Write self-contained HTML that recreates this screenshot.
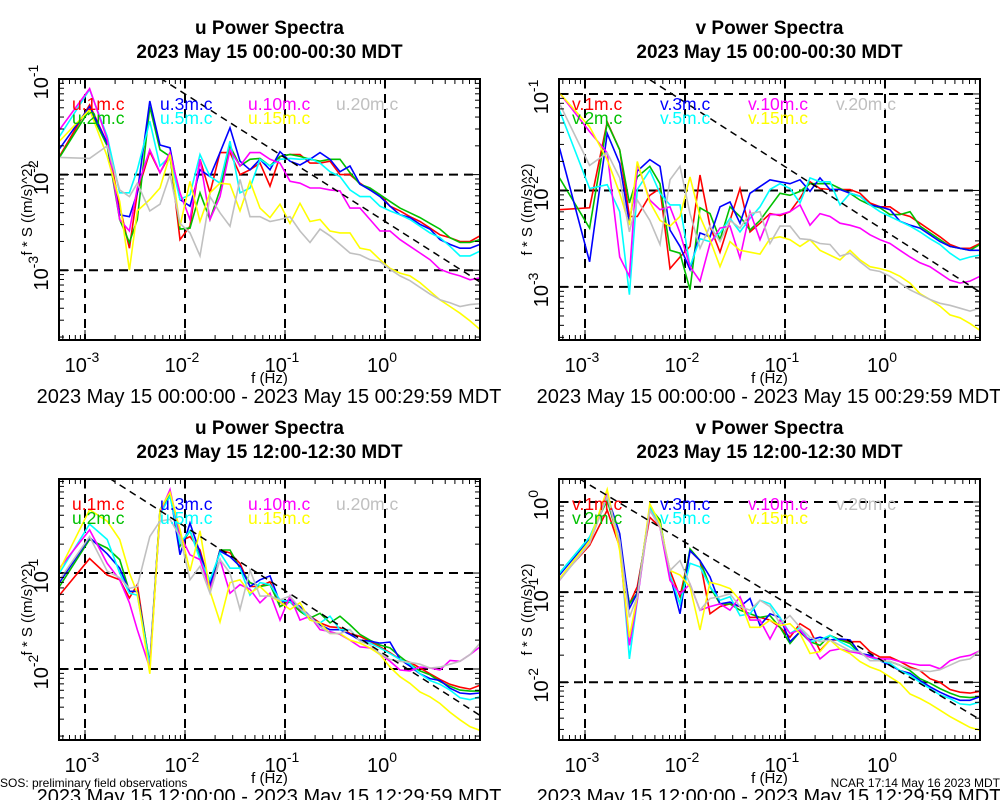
<!DOCTYPE html>
<html><head><meta charset="utf-8">
<style>
html,body{margin:0;padding:0;background:#fff;}
svg{display:block;font-family:"Liberation Sans",Arial,sans-serif;}
</style></head>
<body>
<svg id="chart" width="1000" height="800" viewBox="0 0 1000 800" xmlns="http://www.w3.org/2000/svg">
<rect width="1000" height="800" fill="#fff"/>
<text x="0" y="787" font-size="12">SOS: preliminary field observations</text>
<text x="1000" y="787" font-size="12" text-anchor="end">NCAR 17:14 May 16 2023 MDT</text>
</svg>
<script>
// log10 frequency (Hz) of spectral points
const F = [-3.255,-2.954,-2.778,-2.653,-2.556,-2.477,-2.352,-2.25,-2.15,-2.05,-1.95,-1.85,-1.75,-1.65,-1.55,-1.45,-1.35,-1.25,-1.15,-1.05,-0.95,-0.85,-0.75,-0.65,-0.55,-0.45,-0.35,-0.25,-0.15,-0.05,0.05,0.15,0.25,0.35,0.45,0.55,0.65,0.75,0.85,0.95];
const heights = ['1m','2m','3m','5m','10m','15m','20m'];
const colors = ['#ff0000','#00c000','#0000ff','#00ffff','#ff00ff','#ffff00','#c0c0c0'];
// log10 of f*S values, panel u 00:00
const u0_1m=[-1.81,-1.27,-1.67,-2.33,-2.77,-2.19,-1.76,-1.98,-1.79,-2.68,-2.54,-1.84,-2.19,-1.77,-1.77,-2.00,-1.95,-1.88,-2.12,-1.81,-1.79,-1.79,-1.88,-1.88,-1.86,-2.00,-2.00,-2.09,-2.16,-2.21,-2.33,-2.38,-2.44,-2.49,-2.56,-2.63,-2.66,-2.70,-2.70,-2.64];
const u0_2m=[-1.82,-1.32,-1.70,-2.47,-2.71,-2.47,-1.29,-1.74,-1.81,-2.57,-2.56,-2.19,-2.47,-2.16,-1.70,-1.91,-1.84,-1.83,-1.91,-1.81,-1.79,-1.81,-1.84,-1.86,-1.84,-1.84,-1.98,-2.10,-2.14,-2.21,-2.28,-2.35,-2.40,-2.45,-2.51,-2.57,-2.66,-2.71,-2.71,-2.68];
const u0_3m=[-1.73,-1.29,-1.67,-2.42,-2.44,-2.19,-1.23,-1.69,-1.72,-2.26,-2.33,-1.95,-2.02,-1.77,-1.51,-1.86,-1.95,-1.84,-1.95,-1.76,-1.86,-1.90,-1.84,-1.77,-1.84,-1.97,-1.91,-2.10,-2.16,-2.23,-2.33,-2.42,-2.45,-2.52,-2.57,-2.68,-2.73,-2.77,-2.77,-2.73];
const u0_5m=[-1.60,-1.11,-1.60,-2.19,-2.19,-1.95,-1.44,-1.91,-1.81,-2.26,-2.21,-1.79,-2.02,-2.09,-1.65,-2.19,-2.14,-1.84,-1.91,-1.84,-1.83,-1.84,-1.83,-1.88,-1.97,-2.02,-2.16,-2.23,-2.23,-2.33,-2.38,-2.42,-2.47,-2.54,-2.61,-2.66,-2.75,-2.85,-2.85,-2.80];
const u0_10m=[-1.53,-1.10,-1.63,-2.47,-2.59,-2.14,-1.74,-1.98,-1.77,-2.19,-2.47,-1.84,-2.47,-2.23,-1.74,-1.91,-1.77,-1.77,-1.84,-1.88,-2.07,-2.09,-2.14,-2.14,-2.16,-2.17,-2.35,-2.35,-2.47,-2.59,-2.59,-2.68,-2.75,-2.82,-2.89,-2.99,-3.03,-3.06,-3.10,-3.08];
const u0_15m=[-1.65,-1.32,-1.81,-2.28,-3.00,-2.38,-2.26,-2.14,-1.79,-2.54,-2.07,-2.49,-2.19,-2.09,-2.10,-2.38,-2.07,-2.35,-2.45,-2.31,-2.51,-2.30,-2.49,-2.47,-2.59,-2.61,-2.61,-2.77,-2.79,-2.89,-2.98,-3.03,-3.06,-3.13,-3.22,-3.31,-3.38,-3.45,-3.53,-3.62];
const u0_20m=[-1.82,-1.83,-1.70,-2.16,-2.23,-2.09,-2.38,-2.31,-2.00,-2.51,-2.61,-2.85,-2.23,-2.40,-2.54,-2.05,-2.44,-2.44,-2.49,-2.47,-2.44,-2.59,-2.71,-2.57,-2.64,-2.73,-2.82,-2.84,-2.89,-2.91,-2.99,-3.06,-3.11,-3.18,-3.25,-3.31,-3.34,-3.38,-3.36,-3.35];
// panel v 00:00
const v0_1m=[-2.20,-2.18,-1.29,-1.58,-2.27,-2.27,-2.05,-1.98,-2.81,-2.69,-2.58,-1.84,-2.37,-2.64,-2.31,-1.98,-2.43,-2.34,-2.24,-2.26,-2.22,-2.08,-1.91,-1.98,-1.99,-1.99,-1.99,-2.03,-2.13,-2.17,-2.17,-2.24,-2.27,-2.34,-2.41,-2.48,-2.56,-2.60,-2.60,-2.55];
const v0_2m=[-1.87,-2.39,-1.30,-1.58,-2.13,-1.86,-1.75,-1.93,-2.62,-2.65,-3.03,-2.18,-2.24,-2.51,-2.17,-2.27,-2.41,-2.31,-2.17,-2.03,-2.05,-2.01,-1.93,-1.93,-1.93,-1.98,-2.03,-2.10,-2.15,-2.18,-2.25,-2.25,-2.22,-2.37,-2.44,-2.51,-2.58,-2.60,-2.62,-2.56];
const v0_3m=[-1.56,-2.74,-1.41,-1.72,-2.34,-1.80,-1.68,-1.75,-2.41,-2.58,-2.82,-2.44,-2.48,-2.17,-2.12,-2.34,-2.03,-1.96,-1.89,-1.91,-1.93,-1.89,-2.01,-1.87,-1.99,-1.99,-2.03,-2.06,-2.15,-2.17,-2.20,-2.32,-2.36,-2.39,-2.46,-2.53,-2.58,-2.60,-2.62,-2.62];
const v0_5m=[-1.17,-1.98,-1.94,-2.22,-3.08,-1.99,-1.79,-2.03,-2.15,-2.15,-2.79,-2.50,-2.53,-2.44,-2.29,-2.43,-2.29,-2.17,-1.99,-1.93,-1.98,-2.13,-1.87,-1.91,-1.91,-2.15,-2.03,-2.06,-2.15,-2.22,-2.27,-2.32,-2.37,-2.43,-2.50,-2.56,-2.65,-2.72,-2.69,-2.67];
const v0_10m=[-0.99,-1.39,-1.61,-2.69,-2.89,-1.72,-2.10,-2.20,-2.17,-2.44,-2.79,-2.94,-2.55,-2.39,-2.37,-2.70,-2.22,-2.51,-2.25,-2.25,-2.22,-2.15,-2.36,-2.24,-2.27,-2.34,-2.36,-2.39,-2.46,-2.51,-2.55,-2.62,-2.69,-2.75,-2.79,-2.86,-2.93,-2.96,-2.94,-2.89];
const v0_15m=[-0.99,-1.34,-1.68,-2.03,-2.36,-1.70,-2.12,-2.31,-2.37,-2.27,-1.86,-2.27,-2.51,-2.79,-2.53,-2.62,-2.64,-2.66,-2.50,-2.48,-2.51,-2.58,-2.51,-2.62,-2.67,-2.72,-2.62,-2.72,-2.79,-2.81,-2.84,-2.89,-2.96,-3.07,-3.13,-3.20,-3.29,-3.32,-3.38,-3.45];
const v0_20m=[-1.10,-1.74,-1.61,-1.87,-2.43,-2.10,-2.31,-2.56,-1.89,-1.75,-2.24,-2.60,-2.37,-2.53,-2.31,-2.39,-2.24,-2.22,-2.55,-2.37,-2.37,-2.50,-2.51,-2.55,-2.56,-2.68,-2.65,-2.74,-2.82,-2.84,-2.89,-2.96,-3.03,-3.08,-3.13,-3.17,-3.19,-3.22,-3.25,-3.22];
// panel u 12:00
const u12_1m=[-1.23,-0.85,-1.02,-1.07,-1.26,-1.12,-1.98,-0.37,-0.16,-0.67,-0.62,-0.76,-1.14,-0.76,-0.79,-0.90,-1.14,-1.14,-1.09,-1.35,-1.28,-1.38,-1.45,-1.52,-1.56,-1.57,-1.63,-1.66,-1.71,-1.77,-1.83,-1.90,-1.93,-1.99,-2.05,-2.11,-2.16,-2.19,-2.21,-2.17];
const u12_2m=[-1.14,-0.65,-0.74,-0.86,-1.19,-1.19,-1.94,-0.34,-0.18,-0.72,-0.56,-0.84,-1.17,-0.76,-0.76,-0.95,-1.10,-1.14,-1.12,-1.35,-1.30,-1.40,-1.47,-1.42,-1.52,-1.45,-1.54,-1.64,-1.70,-1.75,-1.78,-1.87,-1.95,-2.02,-2.06,-2.13,-2.18,-2.22,-2.23,-2.23];
const u12_3m=[-1.10,-0.63,-0.80,-0.95,-1.19,-1.19,-1.98,-0.34,-0.16,-0.81,-0.48,-0.79,-1.12,-0.77,-0.83,-0.93,-1.14,-1.07,-1.03,-1.31,-1.28,-1.35,-1.45,-1.54,-1.59,-1.59,-1.64,-1.70,-1.71,-1.73,-1.72,-1.90,-1.97,-2.05,-2.10,-2.12,-2.20,-2.25,-2.26,-2.25];
const u12_5m=[-1.00,-0.49,-0.65,-1.00,-1.21,-1.23,-1.96,-0.39,-0.20,-0.69,-0.56,-0.86,-1.07,-0.79,-0.95,-0.95,-1.23,-1.10,-1.12,-1.28,-1.30,-1.37,-1.49,-1.52,-1.45,-1.59,-1.59,-1.71,-1.73,-1.78,-1.84,-1.90,-1.95,-2.05,-2.12,-2.16,-2.22,-2.30,-2.32,-2.29];
const u12_10m=[-0.95,-0.55,-0.90,-1.07,-1.31,-1.59,-1.99,-0.37,-0.13,-0.60,-0.81,-0.86,-1.17,-0.86,-1.21,-1.12,-1.17,-1.31,-1.21,-1.49,-1.24,-1.49,-1.45,-1.59,-1.61,-1.64,-1.70,-1.77,-1.78,-1.84,-1.92,-2.01,-2.02,-1.98,-1.99,-2.01,-1.91,-1.92,-1.85,-1.77];
const u12_15m=[-0.97,-0.34,-0.46,-0.65,-1.00,-1.21,-2.05,-0.34,-0.16,-0.55,-0.98,-0.56,-1.19,-1.51,-1.10,-1.07,-1.21,-1.14,-1.24,-1.30,-1.38,-1.31,-1.49,-1.52,-1.63,-1.63,-1.70,-1.73,-1.78,-1.85,-1.98,-2.08,-2.15,-2.24,-2.29,-2.36,-2.45,-2.53,-2.60,-2.64];
const u12_20m=[-1.07,-0.62,-0.98,-1.05,-1.16,-1.14,-0.62,-0.46,-0.44,-0.62,-1.07,-0.93,-1.21,-0.86,-1.00,-1.38,-0.97,-1.24,-1.24,-1.28,-1.24,-1.37,-1.45,-1.56,-1.63,-1.63,-1.59,-1.71,-1.75,-1.84,-1.90,-1.92,-1.93,-1.95,-1.99,-1.98,-1.95,-1.92,-1.85,-1.73];
// panel v 12:00
const v12_1m=[-0.85,-0.48,-0.09,-0.50,-1.13,-0.94,-0.17,-0.28,-0.76,-1.05,-0.54,-0.65,-1.24,-1.16,-1.13,-1.16,-1.28,-1.28,-1.31,-1.39,-1.50,-1.35,-1.42,-1.65,-1.53,-1.53,-1.55,-1.55,-1.66,-1.72,-1.72,-1.77,-1.83,-1.87,-1.96,-2.00,-2.08,-2.11,-2.12,-2.10];
const v12_2m=[-0.79,-0.39,0.02,-0.46,-1.13,-1.01,-0.06,-0.20,-0.83,-1.13,-0.52,-0.65,-0.94,-1.13,-1.13,-1.20,-1.24,-1.28,-1.26,-1.39,-1.57,-1.44,-1.55,-1.59,-1.48,-1.53,-1.57,-1.68,-1.72,-1.76,-1.77,-1.81,-1.87,-1.96,-2.01,-2.07,-2.12,-2.16,-2.17,-2.16];
const v12_3m=[-0.81,-0.41,0.07,-0.35,-1.18,-1.01,-0.07,-0.24,-0.81,-1.24,-0.54,-0.65,-0.83,-1.13,-1.11,-1.16,-1.07,-1.37,-1.24,-1.28,-1.55,-1.44,-1.53,-1.50,-1.53,-1.52,-1.53,-1.68,-1.70,-1.76,-1.81,-1.87,-1.90,-1.98,-2.05,-2.11,-2.16,-2.20,-2.20,-2.16];
const v12_5m=[-0.79,-0.39,0.06,-0.43,-1.74,-1.09,-0.06,-0.24,-0.81,-1.13,-0.68,-0.72,-0.94,-1.09,-1.05,-1.26,-1.24,-1.09,-1.13,-1.28,-1.46,-1.39,-1.55,-1.53,-1.48,-1.55,-1.61,-1.68,-1.72,-1.76,-1.79,-1.87,-1.92,-2.00,-2.07,-2.14,-2.18,-2.24,-2.25,-2.22];
const v12_10m=[-0.87,-0.43,0.09,-0.50,-1.59,-1.09,-0.09,-0.28,-0.87,-1.02,-0.91,-1.20,-1.16,-1.13,-1.20,-1.05,-1.31,-1.31,-1.52,-1.31,-1.46,-1.42,-1.55,-1.74,-1.65,-1.63,-1.66,-1.68,-1.72,-1.74,-1.74,-1.77,-1.79,-1.81,-1.81,-1.85,-1.76,-1.72,-1.70,-1.65];
const v12_15m=[-0.85,-0.43,0.14,-0.54,-1.50,-1.05,-0.02,-0.24,-0.76,-0.81,-0.94,-1.42,-0.89,-0.92,-0.96,-1.09,-1.39,-1.39,-1.31,-1.37,-1.35,-1.46,-1.68,-1.66,-1.53,-1.63,-1.68,-1.77,-1.83,-1.87,-1.94,-2.01,-2.13,-2.18,-2.24,-2.31,-2.38,-2.44,-2.50,-2.53];
const v12_20m=[-0.87,-0.46,0.06,-0.43,-1.28,-1.05,-0.09,-0.28,-0.76,-0.65,-0.91,-1.20,-1.07,-1.05,-1.02,-1.16,-1.20,-1.09,-1.16,-1.35,-1.26,-1.39,-1.50,-1.55,-1.53,-1.59,-1.65,-1.66,-1.76,-1.76,-1.77,-1.81,-1.85,-1.87,-1.88,-1.86,-1.81,-1.76,-1.74,-1.65];
// reference -2/3 slope line intercepts (log10 at 1 Hz)
const refIntercept = [-2.49,-2.42,-1.85,-1.78];
const refSlope = -2/3;
const xTickDecades = [-3,-2,-1,0];

const SVGNS='http://www.w3.org/2000/svg';
const svg=document.getElementById('chart');
function el(tag,attrs,parent){const e=document.createElementNS(SVGNS,tag);for(const k in attrs)e.setAttribute(k,attrs[k]);(parent||svg).appendChild(e);return e;}

const panels=[
 {var:'u',title:'2023 May 15 00:00-00:30 MDT',range:'2023 May 15 00:00:00 - 2023 May 15 00:29:59 MDT',x0:59,x1:480,y0:79,y1:340,yt:-1.0,yb:-3.73,dec:[-1,-2,-3],series:[u0_1m,u0_2m,u0_3m,u0_5m,u0_10m,u0_15m,u0_20m]},
 {var:'v',title:'2023 May 15 00:00-00:30 MDT',range:'2023 May 15 00:00:00 - 2023 May 15 00:29:59 MDT',x0:559,x1:980,y0:79,y1:340,yt:-0.845,yb:-3.55,dec:[-1,-2,-3],series:[v0_1m,v0_2m,v0_3m,v0_5m,v0_10m,v0_15m,v0_20m]},
 {var:'u',title:'2023 May 15 12:00-12:30 MDT',range:'2023 May 15 12:00:00 - 2023 May 15 12:29:59 MDT',x0:59,x1:480,y0:479,y1:740,yt:-0.02,yb:-2.74,dec:[-1,-2],series:[u12_1m,u12_2m,u12_3m,u12_5m,u12_10m,u12_15m,u12_20m]},
 {var:'v',title:'2023 May 15 12:00-12:30 MDT',range:'2023 May 15 12:00:00 - 2023 May 15 12:29:59 MDT',x0:559,x1:980,y0:479,y1:740,yt:0.255,yb:-2.64,dec:[0,-1,-2],series:[v12_1m,v12_2m,v12_3m,v12_5m,v12_10m,v12_15m,v12_20m]}
];
const LFMIN=-3.26,LFMAX=0.95;

panels.forEach((p,pi)=>{
  const g=el('g',{});
  
  
  const X=lf=>p.x0+(lf-LFMIN)/(LFMAX-LFMIN)*(p.x1-p.x0);
  const Y=ly=>p.y0+(p.yt-ly)/(p.yt-p.yb)*(p.y1-p.y0);
  const cx=(p.x0+p.x1)/2;
  const t1=el('text',{x:cx,y:p.y0-45,'font-size':19,'font-weight':'bold','text-anchor':'middle'},g);
  t1.textContent=p.var+' Power Spectra';
  
  
  const t2=el('text',{x:cx,y:p.y0-21,'font-size':19,'font-weight':'bold','text-anchor':'middle'},g);
  t2.textContent=p.title;
  
  
  const cp=el('clipPath',{id:'clip'+pi},g);
  el('rect',{x:p.x0,y:p.y0,width:p.x1-p.x0,height:p.y1-p.y0},cp);
  xTickDecades.forEach(d=>{
    const gl=el('line',{x1:X(d),x2:X(d),y1:p.y0,y2:p.y1,stroke:'#000','stroke-width':2,'stroke-dasharray':'9,6'},g);
    
    
  });
  p.dec.forEach(d=>{
    const yy=Y(d); if(yy<p.y0+2) return;
    const gl=el('line',{x1:p.x0,x2:p.x1,y1:yy,y2:yy,stroke:'#000','stroke-width':2,'stroke-dasharray':'9,6'},g);
    
    
  });
  const sg=el('g',{'clip-path':'url(#clip'+pi+')'},g);
  p.series.forEach((s,si)=>{
    const pts=s.map((v,i)=>X(F[i]).toFixed(1)+','+Y(v).toFixed(1)).join(' ');
    const pl=el('polyline',{points:pts,fill:'none',stroke:colors[si],'stroke-width':1.6,'stroke-linejoin':'miter'},sg);
    
    
  });
  const rl=el('line',{x1:X(LFMIN),y1:Y(refIntercept[pi]+refSlope*LFMIN),x2:X(LFMAX),y2:Y(refIntercept[pi]+refSlope*LFMAX),stroke:'#000','stroke-width':1.5,'stroke-dasharray':'7,5'},sg);
  
  
  const lx=[p.x0+13,p.x0+101,p.x0+189,p.x0+277];
  heights.forEach((h,si)=>{
    const col=si===6?3:Math.floor(si/2), row=si===6?0:si%2;
    const lt=el('text',{x:lx[col],y:p.y0+31+row*14,'font-size':17.5,fill:colors[si]},g);
    lt.textContent=p.var+'.'+h+'.c';
    
    
  });
  for(let d=-4; d<=1; d++){
    for(let m=1;m<10;m++){
      const lf=d+Math.log10(m); if(lf<LFMIN||lf>LFMAX) continue;
      const L=m===1?10:5, x=X(lf);
      el('line',{x1:x,x2:x,y1:p.y1,y2:p.y1-L,stroke:'#000','stroke-width':1},g);
      el('line',{x1:x,x2:x,y1:p.y0,y2:p.y0+L,stroke:'#000','stroke-width':1},g);
    }
    for(let m=1;m<10;m++){
      const ly=d+Math.log10(m); if(ly>p.yt+0.001||ly<p.yb) continue;
      const L=m===1?10:5, y=Y(ly);
      el('line',{x1:p.x0,x2:p.x0+L,y1:y,y2:y,stroke:'#000','stroke-width':1},g);
      el('line',{x1:p.x1,x2:p.x1-L,y1:y,y2:y,stroke:'#000','stroke-width':1},g);
    }
  }
  const fr=el('rect',{x:p.x0,y:p.y0,width:p.x1-p.x0,height:p.y1-p.y0,fill:'none',stroke:'#000','stroke-width':2},g);
  
  
  xTickDecades.forEach(d=>{
    const t=el('text',{x:X(d)-3,y:p.y1+32,'font-size':20,'text-anchor':'middle'},g);
    t.textContent='10';
    const s=el('tspan',{dy:-10,'font-size':14},t); s.textContent=String(d);
    
    
  });
  p.dec.forEach(d=>{
    const y=Y(d); if(y>p.y1) return;
    const t=el('text',{transform:'translate('+(p.x0-11)+','+(y+3)+') rotate(-90)','font-size':20,'text-anchor':'middle'},g);
    t.textContent='10';
    const s=el('tspan',{dy:-10,'font-size':14},t); s.textContent=String(d);
    
    
  });
  const yl=el('text',{transform:'translate('+(p.x0-27)+','+((p.y0+p.y1)/2)+') rotate(-90)','font-size':15,'text-anchor':'middle'},g);
  yl.textContent='f * S ((m/s)^2)';
  
  
  const xl=el('text',{x:cx,y:p.y1+43,'font-size':15,'text-anchor':'middle'},g);
  xl.textContent='f (Hz)';
  
  
  const rt=el('text',{x:p.x0+210,y:p.y1+63,'font-size':20,'text-anchor':'middle'},g);
  rt.textContent=p.range;
  
  
});
</script>
</body></html>
